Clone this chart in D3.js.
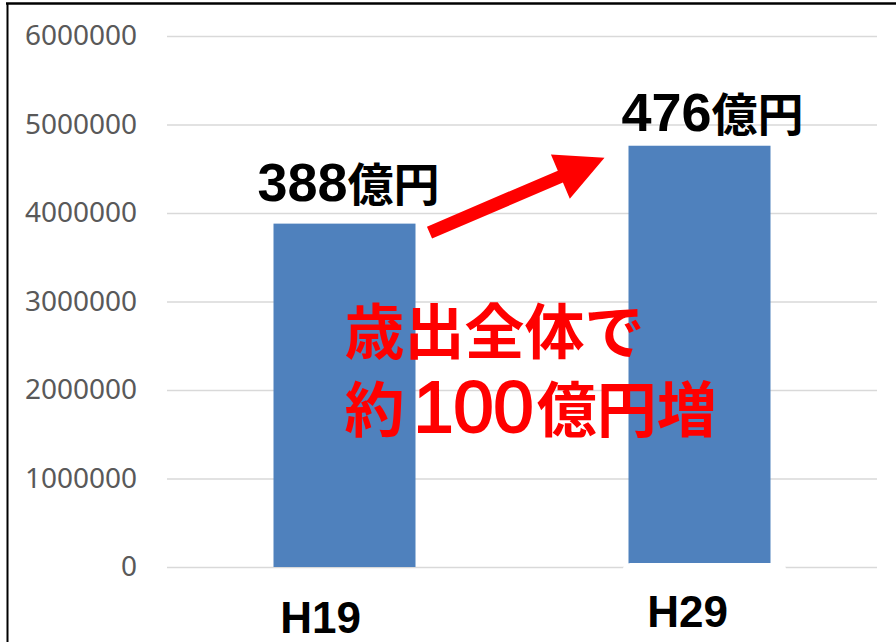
<!DOCTYPE html>
<html>
<head>
<meta charset="utf-8">
<script src="https://cdn.jsdelivr.net/npm/d3@7"></script>
<style>
  body { margin: 0; background: white; }
  svg { display: block; }
</style>
</head>
<body>
<svg></svg>
<script>
// data
const categories = ['H19', 'H29'];
const values = [3880000, 4760000];
const valueLabels = ['388', '476'];
const yTicks = [0, 1000000, 2000000, 3000000, 4000000, 5000000, 6000000];
const noteLines = ['歳出全体で', '約100億円増'];

// colors
const BAR = '#4f81bd';
const GRID = '#d9d9d9';
const TICK_TEXT = '#595959';
const RED = '#ff0000';

const width = 896;
const height = 642;

const svg = d3.select('svg')
  .attr('width', width)
  .attr('height', height);

svg.append('rect')
  .attr('width', width).attr('height', height)
  .attr('fill', 'white');

// frame (top + left only)
svg.append('line')
  .attr('x1', 6).attr('x2', width).attr('y1', 3.5).attr('y2', 3.5)
  .attr('stroke', 'black').attr('stroke-width', 2.5);
svg.append('line')
  .attr('x1', 7.5).attr('x2', 7.5).attr('y1', 3).attr('y2', height)
  .attr('stroke', 'black').attr('stroke-width', 2);

const plot = { left: 167, right: 877, top: 36, bottom: 567 };

const x = d3.scaleBand()
  .domain(categories)
  .range([plot.left, plot.right])
  .paddingInner(0.6)
  .paddingOuter(0.3);

const y = d3.scaleLinear()
  .domain([0, 6000000])
  .range([plot.bottom, plot.top]);

// y axis with gridlines
const yAxis = d3.axisLeft(y)
  .tickValues(yTicks)
  .tickFormat(d3.format('d'))
  .tickSize(-(plot.right - plot.left))
  .tickPadding(30);

const gy = svg.append('g')
  .attr('transform', `translate(${plot.left},0)`)
  .call(yAxis);
gy.select('.domain').remove();
gy.selectAll('.tick line')
  .attr('stroke', GRID)
  .attr('stroke-width', 1.5);
gy.selectAll('.tick text')
  .attr('fill', TICK_TEXT)
  .attr('font-family', '"Noto Sans", "Open Sans", sans-serif')
  .attr('font-size', 28);

// bars
svg.selectAll('.bar')
  .data(values)
  .enter().append('rect')
  .attr('class', 'bar')
  .attr('x', (d, i) => x(categories[i]))
  .attr('y', d => y(d))
  .attr('width', x.bandwidth())
  .attr('height', d => y(0) - y(d))
  .attr('fill', BAR);

// white text box behind the H29 label (covers baseline)
svg.append('rect')
  .attr('x', x('H29') - 6)
  .attr('y', y(0) - 4)
  .attr('width', x.bandwidth() + 22)
  .attr('height', 70)
  .attr('rx', 8)
  .attr('fill', 'white');

// category labels
const catOffset = [{ dx: -24, dy: 66 }, { dx: -12, dy: 60 }];
svg.selectAll('.cat')
  .data(categories)
  .enter().append('text')
  .attr('class', 'cat')
  .attr('x', (d, i) => x(d) + x.bandwidth() / 2 + catOffset[i].dx)
  .attr('y', (d, i) => y(0) + catOffset[i].dy)
  .attr('text-anchor', 'middle')
  .attr('font-family', '"Liberation Sans", Arial, sans-serif')
  .attr('font-weight', 'bold')
  .attr('font-size', 44)
  .attr('fill', 'black')
  .text(d => d);

// value labels above bars
const valOffset = [{ dx: -16, dy: -23 }, { dx: -7, dy: -15 }];
const vl = svg.selectAll('.val')
  .data(values)
  .enter().append('text')
  .attr('class', 'val')
  .attr('x', (d, i) => x(categories[i]) + valOffset[i].dx)
  .attr('y', (d, i) => y(d) + valOffset[i].dy)
  .attr('font-weight', 'bold')
  .attr('fill', 'black');
vl.append('tspan')
  .attr('font-family', '"Liberation Sans", Arial, sans-serif')
  .attr('font-size', 54)
  .text((d, i) => valueLabels[i]);
vl.append('tspan')
  .attr('font-family', '"Noto Sans CJK JP", sans-serif')
  .attr('font-size', 46)
  .text('億円');

// arrow from H19 bar to H29 bar
const tail = [x('H19') + x.bandwidth() + 14, y(values[0]) + 9];
const tip = [x('H29') - 24, y(values[1]) + 12];
function arrowPoints(a, b, shaft, headLen, headW) {
  const dx = b[0] - a[0], dy = b[1] - a[1];
  const len = Math.hypot(dx, dy);
  const ux = dx / len, uy = dy / len;
  const nx = -uy, ny = ux;
  const base = [b[0] - ux * headLen, b[1] - uy * headLen];
  return [
    [a[0] + nx * shaft / 2, a[1] + ny * shaft / 2],
    [base[0] + nx * shaft / 2, base[1] + ny * shaft / 2],
    [base[0] + nx * headW / 2, base[1] + ny * headW / 2],
    b,
    [base[0] - nx * headW / 2, base[1] - ny * headW / 2],
    [base[0] - nx * shaft / 2, base[1] - ny * shaft / 2],
    [a[0] - nx * shaft / 2, a[1] - ny * shaft / 2]
  ];
}
svg.append('polygon')
  .attr('points', arrowPoints(tail, tip, 13, 48, 48).map(p => p.join(',')).join(' '))
  .attr('fill', RED);

// red note (two lines in one text element)
const noteX = x('H19') + x.bandwidth() - 71;
const note = svg.append('text')
  .attr('x', noteX)
  .attr('y', y(0) - 213)
  .attr('fill', RED);
note.append('tspan')
  .attr('x', noteX)
  .attr('font-family', '"Noto Sans CJK JP", sans-serif')
  .attr('font-weight', 'bold')
  .attr('font-size', 60)
  .text(noteLines[0]);
note.append('tspan')
  .attr('x', noteX)
  .attr('dy', 78)
  .attr('font-family', '"Noto Sans CJK JP", sans-serif')
  .attr('font-weight', 'bold')
  .attr('font-size', 60)
  .text(noteLines[1].slice(0, 1));
note.append('tspan')
  .attr('dx', 9)
  .attr('font-family', '"Liberation Sans", Arial, sans-serif')
  .attr('font-size', 72)
  .attr('stroke', RED)
  .attr('stroke-width', 2)
  .text(noteLines[1].slice(1, 4));
note.append('tspan')
  .attr('dx', 3)
  .attr('font-family', '"Noto Sans CJK JP", sans-serif')
  .attr('font-weight', 'bold')
  .attr('font-size', 60)
  .text(noteLines[1].slice(4));
</script>
</body>
</html>
